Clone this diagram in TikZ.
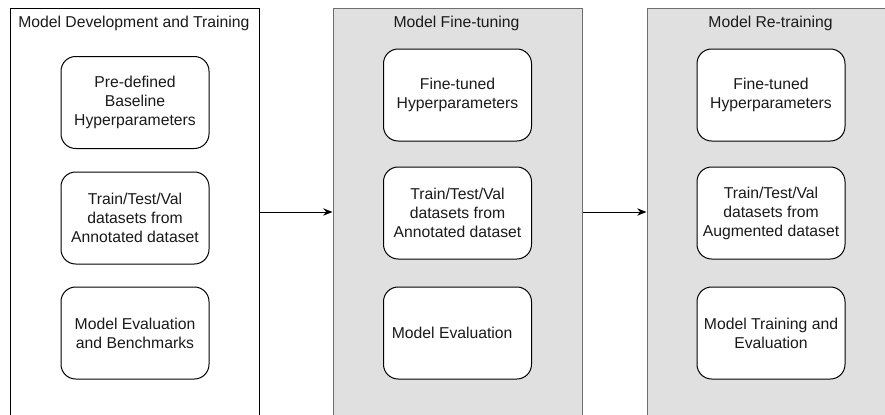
\documentclass[tikz,border=0pt]{standalone}
\usepackage{fontspec}
\setmainfont{Liberation Sans}
\usetikzlibrary{positioning,arrows.meta}
\definecolor{g1}{HTML}{E0E0E0}
\definecolor{g2}{HTML}{6E6E6E}
\definecolor{t1}{HTML}{1A1A1A}

\tikzset{
	txt/.style={font=\fontsize{11.8}{14.2}\selectfont, text=t1},
	panel/.style={draw, line width=0.75pt, minimum width=186.75pt, minimum height=306pt, inner sep=0pt},
	stagebox/.style={txt, draw, fill=white, line width=0.75pt, rounded corners=11pt, align=center, minimum width=111pt, minimum height=69pt, inner sep=2pt},
	flow/.style={-{Stealth[length=7pt, width=5.5pt]}, line width=0.75pt},
}

\begin{document}
\begin{tikzpicture}[x=0.75pt, y=-0.75pt]
	\clip (0,0) rectangle (885,414);
	\fill[white] (0,0) rectangle (885,414);

	% panels
	\node[panel, draw=black, fill=white] (pdev) at (135,212) {};
	\node[panel, draw=g2, fill=g1] (pfine) at (457.5,212) {};
	\node[panel, draw=g2, fill=g1] (pretrain) at (771.5,212) {};

	\node[txt, anchor=west, inner sep=0pt] (tdev) at (18,23) {Model Development and Training};
	\node[txt, inner sep=0pt] (tfine) at (456.5,23) {Model Fine-tuning};
	\node[txt, inner sep=0pt] (tretrain) at (770.5,23) {Model Re-training};

	% development
	\node[stagebox] (devhyp) at (135,102.5) {Pre-defined\\Baseline\\Hyperparameters};
	\node[stagebox] (devdata) at (135,218) {Train/Test/Val\\datasets from\\Annotated dataset};
	\node[stagebox] (deveval) at (135,333) {Model Evaluation\\and Benchmarks};

	% fine-tuning
	\node[stagebox] (finehyp) at (457.5,95) {Fine-tuned\\Hyperparameters};
	\node[stagebox] (finedata) at (457.5,213) {Train/Test/Val\\datasets from\\Annotated dataset};
	\node[stagebox] (fineeval) at (457.5,333) {Model Evaluation\hspace*{8pt}};

	% re-training
	\node[stagebox] (rehyp) at (771,95) {Fine-tuned\\Hyperparameters};
	\node[stagebox] (redata) at (771,213) {Train/Test/Val\\datasets from\\Augmented dataset};
	\node[stagebox] (reeval) at (771,333) {Model Training and\\Evaluation};

	\draw[flow] (pdev.east) -- (pfine.west);
	\draw[flow] (pfine.east) -- (pretrain.west);
\end{tikzpicture}
\end{document}
